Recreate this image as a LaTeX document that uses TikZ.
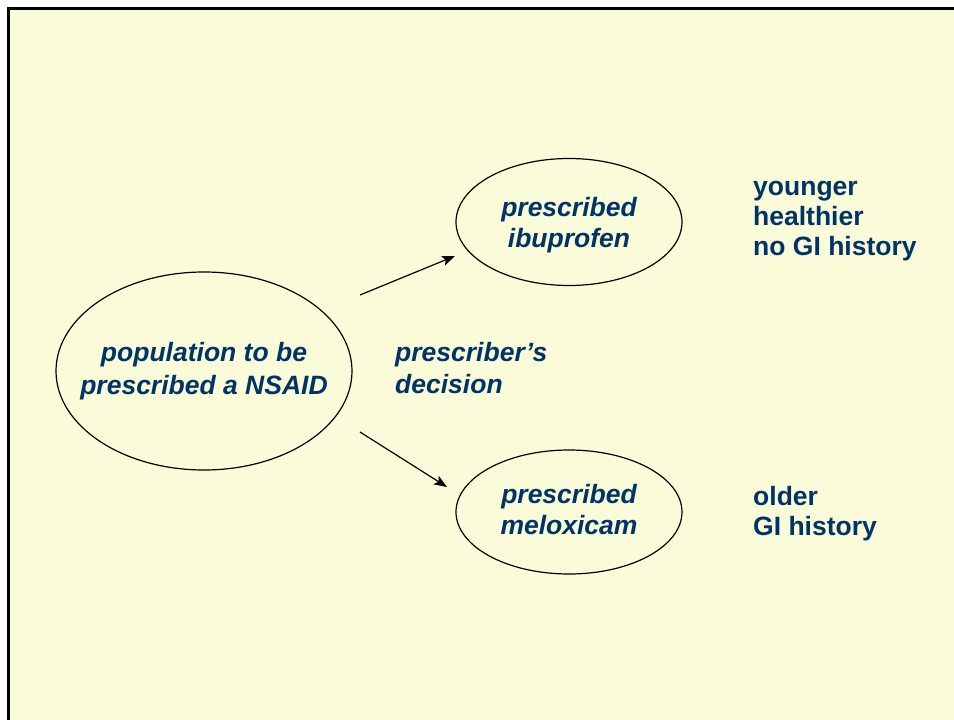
\documentclass[tikz,border=0pt]{standalone}
\usepackage{fontspec}
\setmainfont{Liberation Sans}
\usetikzlibrary{shapes.geometric,arrows.meta}
\definecolor{slidebg}{RGB}{250,251,216}
\definecolor{navytext}{RGB}{0,51,102}
\tikzset{
  choice/.style={ellipse, draw, line width=1.2pt, inner sep=0pt, text=navytext, align=center,
    font=\fontsize{26.5}{31}\selectfont\bfseries\itshape},
  remark/.style={inner sep=0pt, text=navytext, align=left,
    font=\fontsize{26.5}{32}\selectfont\bfseries\itshape},
  trait/.style={inner sep=0pt, text=navytext, align=left,
    font=\fontsize{26.5}{30}\selectfont\bfseries},
  link/.style={-{Stealth[length=13pt,width=10pt,inset=3pt]}, line width=1.2pt}
}
\begin{document}
\begin{tikzpicture}[x=1pt, y=-1pt]
\useasboundingbox (0,0) rectangle (954,720);
\draw[line width=3pt, fill=slidebg] (8,8) rectangle (980,750);

% the whole population
\node[choice, inner xsep=-22pt, minimum width=296pt, minimum height=198pt,
  font=\fontsize{26.5}{33}\selectfont\bfseries\itshape] (pop) at (204,371)
  {population to be\\prescribed a NSAID};

% the two groups
\node[choice, text depth=0pt, minimum width=226pt, minimum height=127pt] (ibu) at (569,222)
  {prescribed\\ibuprofen};
\node[choice, text depth=6pt, minimum width=226pt, minimum height=124pt] (melox) at (569,512)
  {prescribed\\meloxicam};

% arrows
\coordinate (upfrom) at (360,295);
\coordinate (upto) at (455,256);
\coordinate (downfrom) at (360,432);
\coordinate (downto) at (447,487);
\draw[link] (upfrom) -- (upto);
\draw[link] (downfrom) -- (downto);

% labels (base = last line)
\node[remark, anchor=base west] (decide) at (395,393) {prescriber’s\\decision};
\node[trait, anchor=base west] (young) at (753,255) {younger\\healthier\\no GI history};
\node[trait, anchor=base west] (old) at (753,535) {older\\GI history};
\end{tikzpicture}
\end{document}
